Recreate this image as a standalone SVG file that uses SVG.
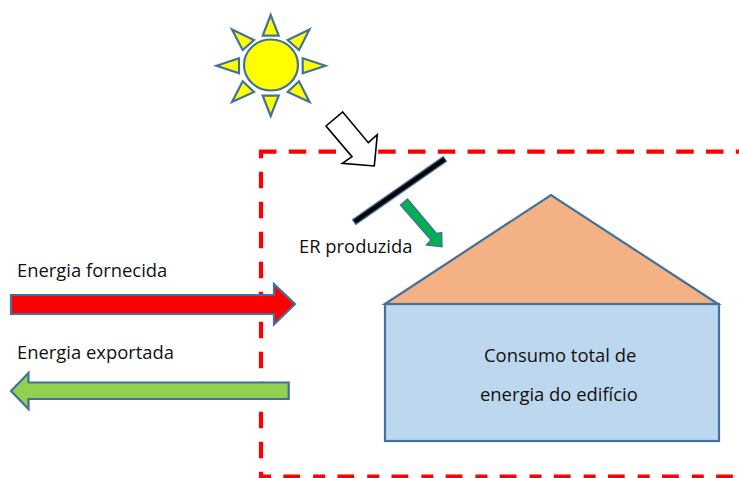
<svg xmlns="http://www.w3.org/2000/svg" width="739" height="478" viewBox="0 0 739 478">
<style>
.o{stroke:#41719c;stroke-width:2.2;stroke-linejoin:miter}
.s{fill:#ffff00}
.d{fill:none;stroke:#ff0000;stroke-width:4.2}
text{font-family:"Open Sans","Liberation Sans",sans-serif;font-size:18.4px;fill:#111}
</style>
<rect width="739" height="478" fill="#fff"/>
<g id="boundary">
<path class="d" d="M259 151.700H739" stroke-dasharray="17.500 12.300"/>
<path class="d" d="M261 150V158.300M261 171.700V478" stroke-dasharray="16.600 13.400"/>
<path class="d" d="M259 476.700H739" stroke-dasharray="12 12.300 16.800 13"/>
</g>
<g id="sun" class="o">
<ellipse class="s" cx="271" cy="65" rx="27" ry="25.500"/>
<polygon class="s" points="270.700,15 262.700,35.700 278.700,35.700"/>
<polygon class="s" points="216.500,65.700 239,58.300 239,73.300"/>
<polygon class="s" points="325.500,65.700 302.700,58.300 302.700,73.300"/>
<polygon class="s" points="270.700,116 262.700,95.700 278.700,95.700"/>
<polygon class="s" points="232,29.500 254,40 242.700,50"/>
<polygon class="s" points="309.500,29.500 287.700,40 299,50"/>
<polygon class="s" points="232,102 242.700,81.300 254,92"/>
<polygon class="s" points="309.500,102 299,81.300 287.700,92"/>
</g>
<g id="sunlight">
<polygon points="342.700,112 368.300,142.700 377.300,134.700 374.300,166 342.300,163.300 352,156.700 326,126" fill="#fff" stroke="#000" stroke-width="1.600"/>
</g>
<g id="panel">
<path d="M353.700 222.300L445.300 158.700" stroke="#41719c" stroke-width="7"/>
<path d="M354.500 221.700L444.500 159.300" stroke="#000" stroke-width="4.400"/>
</g>
<g id="er-arrow">
<polygon points="400.500,205 407.500,199 436.500,233.500 441.700,232.500 442,246.700 426.500,245 431,240" fill="#00b050" stroke="#41719c" stroke-width="1.400"/>
<text x="299" y="253">ER produzida</text>
</g>
<g id="house">
<polygon class="o" points="385,304 551,195 718,304" fill="#f4b183"/>
<rect class="o" x="385" y="304" width="334" height="137" fill="#bdd7ee"/>
<text x="484" y="362">Consumo total de</text>
<text x="480" y="401">energia do edifício</text>
</g>
<g id="supplied">
<polygon class="o" points="11,295 274,295 274,284 295,304 274,324.500 274,314 11,314" fill="#ff0000"/>
<text x="17" y="277">Energia fornecida</text>
</g>
<g id="exported">
<polygon class="o" points="288.700,382.500 288.700,399 28.500,399 28.500,409 11,391 28.500,373 28.500,382.500" fill="#92d050"/>
<text x="17" y="359">Energia exportada</text>
</g>
</svg>
